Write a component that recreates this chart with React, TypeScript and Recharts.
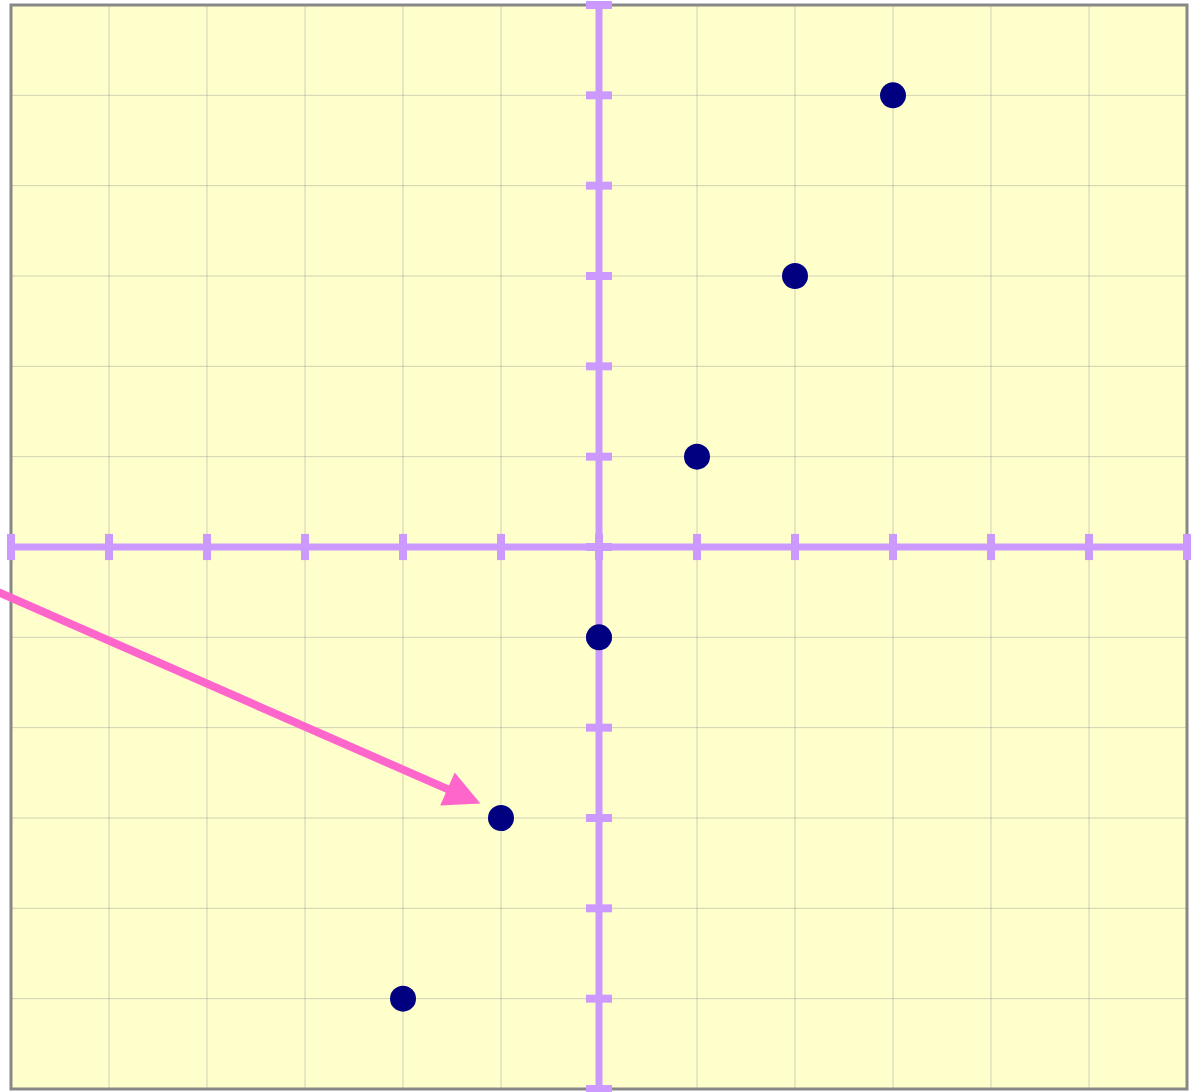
import React from 'react';
import { ScatterChart, Scatter, XAxis, YAxis, CartesianGrid, ReferenceLine, ReferenceArea } from 'recharts';

// points on y = 2x - 1
const pointX = [-2, -1, 0, 1, 2, 3];
const pointY = [-5, -3, -1, 1, 3, 5];

const gridValues = [-6, -5, -4, -3, -2, -1, 0, 1, 2, 3, 4, 5, 6];
const axisTicks = [-6, -5, -4, -3, -2, -1, 0, 1, 2, 3, 4, 5, 6];

// arrow start / tip in data units
const arrowFrom = { x: -6.15, y: -0.49 };
const arrowTo = { x: -1.21, y: -2.84 };

const points = pointX.map((x, i) => ({ x, y: pointY[i] }));

const AXIS = '#cc99ff';
const ARROW = '#ff66cc';
const DOT = '#000080';

const ArrowShape = (props: any) => {
  const { x1, y1, x2, y2 } = props;
  const dx = x2 - x1;
  const dy = y2 - y1;
  const len = Math.sqrt(dx * dx + dy * dy) || 1;
  const ux = dx / len;
  const uy = dy / len;
  const headLen = 36;
  const half = 18;
  const bx = x2 - ux * headLen;
  const by = y2 - uy * headLen;
  const pts = [
    `${x2},${y2}`,
    `${bx - uy * half},${by + ux * half}`,
    `${bx + uy * half},${by - ux * half}`,
  ].join(' ');
  return (
    <g>
      <line x1={x1} y1={y1} x2={bx + ux * 2} y2={by + uy * 2} stroke={ARROW} strokeWidth={8} />
      <polygon points={pts} fill={ARROW} />
    </g>
  );
};

const Dot = (props: any) => {
  const { cx, cy } = props;
  return <circle cx={cx} cy={cy} r={13} fill={DOT} />;
};

export default function App() {
  return (
    <div style={{ position: 'absolute', left: 0, top: 0, background: '#fff' }}>
      <ScatterChart width={1197} height={1092} margin={{ top: 5, right: 10, bottom: 3, left: 11 }}>
        <XAxis type="number" dataKey="x" domain={[-6, 6]} ticks={axisTicks} hide allowDataOverflow />
        <YAxis type="number" dataKey="y" domain={[-6, 6]} ticks={axisTicks} hide allowDataOverflow />
        <CartesianGrid
          fill="#ffffcc"
          stroke="#999"
          strokeOpacity={0.45}
          horizontalValues={gridValues}
          verticalValues={gridValues}
        />
        <ReferenceArea x1={-6} x2={6} y1={-6} y2={6} fill="none" fillOpacity={0} stroke="#888" strokeWidth={3} ifOverflow="visible" />
        <ReferenceLine y={0} stroke={AXIS} strokeWidth={7} ifOverflow="visible" />
        <ReferenceLine x={0} stroke={AXIS} strokeWidth={7} ifOverflow="visible" />
        {axisTicks.map((t) => (
          <ReferenceLine
            key={`xt${t}`}
            segment={[{ x: t, y: -0.145 }, { x: t, y: 0.145 }]}
            stroke={AXIS}
            strokeWidth={8}
            ifOverflow="visible"
          />
        ))}
        {axisTicks.map((t) => (
          <ReferenceLine
            key={`yt${t}`}
            segment={[{ x: -0.133, y: t }, { x: 0.133, y: t }]}
            stroke={AXIS}
            strokeWidth={8}
            ifOverflow="visible"
          />
        ))}
        <ReferenceLine segment={[arrowFrom, arrowTo]} ifOverflow="visible" shape={ArrowShape} />
        <Scatter data={points} fill={DOT} shape={Dot} isAnimationActive={false} />
      </ScatterChart>
    </div>
  );
}
